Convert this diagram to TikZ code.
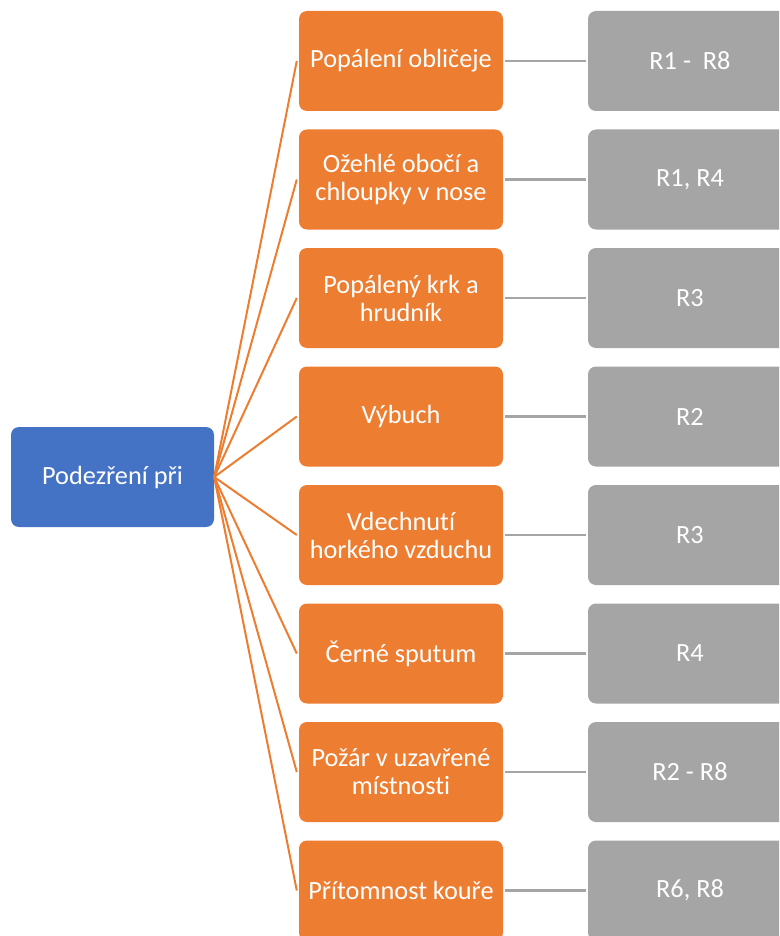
\documentclass[tikz,border=0pt]{standalone}
\usepackage{fontspec}
\setmainfont{Carlito}[Ligatures={NoCommon}]
\definecolor{rootblue}{HTML}{4472C4}
\definecolor{leaforange}{HTML}{ED7D31}
\definecolor{codegray}{HTML}{A5A5A5}
\begin{document}
\begin{tikzpicture}[x=1pt,y=-1pt,
  box/.style={rounded corners=8pt, minimum width=204pt, minimum height=100pt,
    inner sep=0pt, text=white, align=center, font=\fontsize{26.3}{28}\selectfont},
  rootbox/.style={box, fill=rootblue, minimum width=203pt},
  signbox/.style={box, fill=leaforange},
  codebox/.style={box, fill=codegray},
  branch/.style={draw=leaforange, line width=2pt},
  link/.style={draw=codegray, line width=2.5pt}]
\clip (0,0) rectangle (779,936);
\fill[white] (0,0) rectangle (779,936);

\node[rootbox] (root) at (112.5,477) {Podezření při};

\node[signbox] (s1) at (401,61)    {Popálení obličeje};
\node[signbox] (s2) at (401,179.5) {Ožehlé obočí a\\chloupky v nose};
\node[signbox] (s3) at (401,298)   {Popálený krk a\\hrudník};
\node[signbox] (s4) at (401,416.5) {Výbuch};
\node[signbox] (s5) at (401,535)   {Vdechnutí\\horkého vzduchu};
\node[signbox] (s6) at (401,653.5) {Černé sputum};
\node[signbox] (s7) at (401,772)   {Požár v uzavřené\\místnosti};
\node[signbox] (s8) at (401,890.5) {Přítomnost kouře};

\node[codebox] (c1) at (690,61)    {R1 -~~R8};
\node[codebox] (c2) at (690,179.5) {R1, R4};
\node[codebox] (c3) at (690,298)   {R3};
\node[codebox] (c4) at (690,416.5) {R2};
\node[codebox] (c5) at (690,535)   {R3};
\node[codebox] (c6) at (690,653.5) {R4};
\node[codebox] (c7) at (690,772)   {R2 - R8};
\node[codebox] (c8) at (690,890.5) {R6, R8};

\foreach \i in {1,...,8} {
  \draw[branch] (root.east) -- ([xshift=-2pt]s\i.west);
  \draw[link] ([xshift=2pt]s\i.east) -- ([xshift=-2pt]c\i.west);
}
\end{tikzpicture}
\end{document}
